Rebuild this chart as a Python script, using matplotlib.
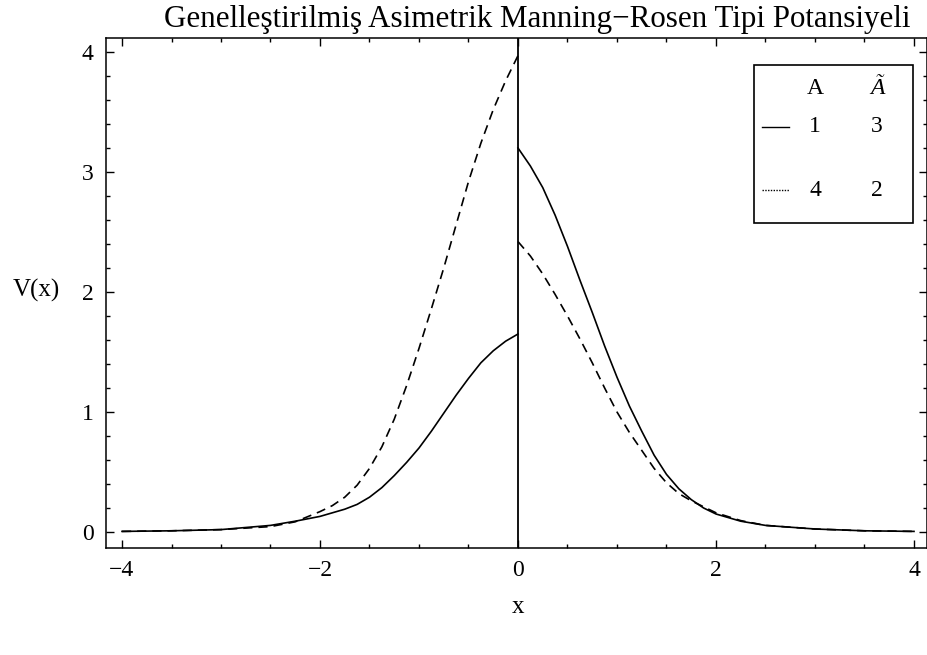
import matplotlib
matplotlib.use('Agg')
import matplotlib.pyplot as plt
from matplotlib.lines import Line2D
from matplotlib.patches import Rectangle
from matplotlib.ticker import MultipleLocator

plt.rcParams['font.family'] = ['Liberation Serif', 'DejaVu Serif']

title = 'Genelleştirilmiş Asimetrik Manning−Rosen Tipi Potansiyeli'

# x < 0 branch
x_left = [-4, -3.5, -3, -2.5, -2.25, -2, -1.875, -1.75, -1.625, -1.5, -1.375,
          -1.25, -1.125, -1, -0.875, -0.75, -0.625, -0.5, -0.375, -0.25, -0.125, 0]
solid_left = [0.005, 0.01, 0.02, 0.055, 0.09, 0.13, 0.16, 0.19, 0.23, 0.29, 0.37,
              0.47, 0.58, 0.70, 0.84, 0.99, 1.14, 1.28, 1.41, 1.51, 1.59, 1.65]
dashed_left = [0.005, 0.01, 0.02, 0.045, 0.085, 0.17, 0.22, 0.29, 0.39, 0.53, 0.71,
               0.94, 1.22, 1.53, 1.86, 2.20, 2.56, 2.92, 3.24, 3.52, 3.76, 3.97]

# x > 0 branch
x_right = [0, 0.125, 0.25, 0.375, 0.5, 0.625, 0.75, 0.875, 1, 1.125, 1.25,
           1.375, 1.5, 1.625, 1.75, 1.875, 2, 2.25, 2.5, 3, 3.5, 4]
solid_right = [3.20, 3.05, 2.87, 2.64, 2.38, 2.10, 1.83, 1.55, 1.29, 1.05, 0.84,
               0.64, 0.48, 0.36, 0.27, 0.20, 0.15, 0.09, 0.055, 0.025, 0.01, 0.005]
dashed_right = [2.42, 2.30, 2.15, 1.98, 1.80, 1.61, 1.41, 1.20, 1.00, 0.83, 0.68,
                0.53, 0.41, 0.32, 0.26, 0.21, 0.16, 0.095, 0.055, 0.025, 0.01, 0.005]

# legend table: A and A-tilde per curve
legend_A = ['1', '4']
legend_At = ['3', '2']

W, H = 928, 655
fig = plt.figure(figsize=(W / 100, H / 100), dpi=100)
ax_l, ax_r, ax_t, ax_b = 106, 927, 38, 548
ax = fig.add_axes([ax_l / W, 1 - ax_b / H, (ax_r - ax_l) / W, (ax_b - ax_t) / H])

lw = 1.2
ax.plot(x_left, solid_left, color='black', lw=lw)
ax.plot(x_right, solid_right, color='black', lw=lw)
ax.plot(x_left, dashed_left, color='black', lw=lw, dashes=(5.5, 3.6))
ax.plot(x_right, dashed_right, color='black', lw=lw, dashes=(5.5, 3.6))
ax.axvline(0, color='black', lw=1.3)

ax.set_xlim((ax_l - 518) / 99, (ax_r - 518) / 99)
ax.set_ylim((532 - ax_b) / 120, (532 - ax_t) / 120)

ax.xaxis.set_major_locator(MultipleLocator(2))
ax.xaxis.set_minor_locator(MultipleLocator(0.5))
ax.yaxis.set_major_locator(MultipleLocator(1))
ax.yaxis.set_minor_locator(MultipleLocator(0.2))
ax.tick_params(which='both', direction='in', top=True, right=True, width=1.0,
               labelsize=17, pad=9)
ax.tick_params(which='major', length=6)
ax.tick_params(which='minor', length=3)
for s in ax.spines.values():
    s.set_linewidth(1.1)

fig.text(537 / W, 1 - 27 / H, title, ha='center', va='baseline', fontsize=22.3)
fig.text(518 / W, 1 - 607 / H, 'x', ha='center', va='center', fontsize=18)
fig.text(36 / W, 1 - 290 / H, 'V(x)', ha='center', va='center', fontsize=18)


def axc(px, py):
    return (px - ax_l) / (ax_r - ax_l), (ax_b - py) / (ax_b - ax_t)


# legend table drawn by hand
bx0, by0 = axc(754, 223)
bx1, by1 = axc(913, 65)
ax.add_patch(Rectangle((bx0, by0), bx1 - bx0, by1 - by0, transform=ax.transAxes,
                       fill=True, facecolor='white', edgecolor='black', lw=1.2, zorder=5))
col_a = axc(815, 0)[0]
col_at = axc(877, 0)[0]
row_h = axc(0, 88)[1]
rows = [axc(0, 127)[1], axc(0, 190)[1]]
ax.text(col_a, row_h, 'A', transform=ax.transAxes, ha='center', va='center', fontsize=17, zorder=6)
ax.text(col_at, row_h, 'Ã', transform=ax.transAxes, ha='center', va='center', fontsize=17,
        style='italic', zorder=6)
sx0, sx1 = axc(762, 0)[0], axc(789, 0)[0]
styles = [dict(ls='-'), dict(ls=(0, (1, 1)))]
for a, at, ry, st in zip(legend_A, legend_At, rows, styles):
    ax.add_line(Line2D([sx0, sx1], [ry, ry], transform=ax.transAxes, color='black',
                       lw=1.0, zorder=6, **st))
    ax.text(col_a, ry, a, transform=ax.transAxes, ha='center', va='center', fontsize=17, zorder=6)
    ax.text(col_at, ry, at, transform=ax.transAxes, ha='center', va='center', fontsize=17, zorder=6)

fig.savefig('out.png', dpi=100)
